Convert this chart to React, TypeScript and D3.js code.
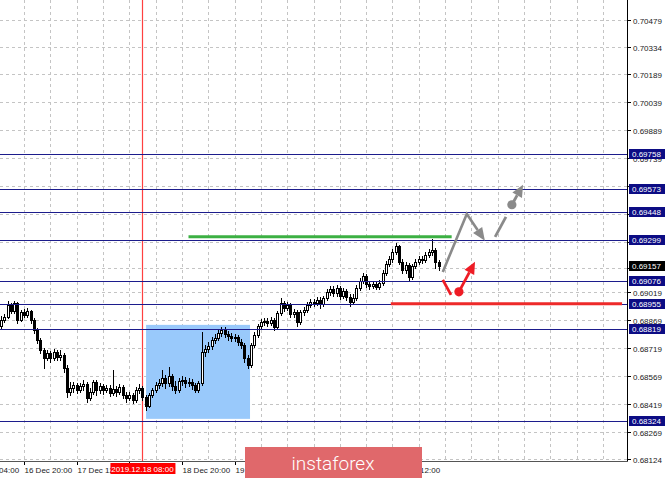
import { useEffect, useRef } from 'react'
import * as d3 from 'd3'

// H1 candles, bar 0 = 16 Dec 13:00 (open of each bar = previous close)
const firstOpen = 0.68837
const closes = [
  0.68869, 0.68885, 0.68950, 0.68917, 0.68960, 0.68869, 0.68912, 0.68896, 0.68917, 0.68869,
  0.68816, 0.68762, 0.68708, 0.68665, 0.68692, 0.68665, 0.68698, 0.68671, 0.68681, 0.68612,
  0.68483, 0.68504, 0.68521, 0.68494, 0.68515, 0.68526, 0.68451, 0.68483, 0.68537, 0.68494,
  0.68515, 0.68494, 0.68504, 0.68478, 0.68499, 0.68483, 0.68510, 0.68467, 0.68451, 0.68467,
  0.68440, 0.68494, 0.68504, 0.68456, 0.68408, 0.68467, 0.68494, 0.68521, 0.68531, 0.68558,
  0.68531, 0.68569, 0.68515, 0.68494, 0.68542, 0.68547, 0.68531, 0.68537, 0.68521, 0.68494,
  0.68531, 0.68698, 0.68714, 0.68730, 0.68762, 0.68773, 0.68799, 0.68816, 0.68794, 0.68783,
  0.68773, 0.68778, 0.68751, 0.68735, 0.68665, 0.68628, 0.68735, 0.68789, 0.68837, 0.68858,
  0.68864, 0.68853, 0.68869, 0.68832, 0.68907, 0.68960, 0.68933, 0.68950, 0.68901, 0.68912,
  0.68858, 0.68912, 0.68923, 0.68950, 0.68966, 0.68960, 0.68976, 0.68955, 0.68987, 0.69019,
  0.69035, 0.69014, 0.69041, 0.68998, 0.69025, 0.68992, 0.68966, 0.68987, 0.69041, 0.69078,
  0.69105, 0.69062, 0.69051, 0.69062, 0.69046, 0.69067, 0.69121, 0.69169, 0.69196, 0.69234,
  0.69266, 0.69180, 0.69137, 0.69164, 0.69100, 0.69159, 0.69180, 0.69196, 0.69191, 0.69218,
  0.69234, 0.69244, 0.69180, 0.69157
]
const highs = [
  0.68891, 0.68901, 0.68971, 0.68960, 0.68971, 0.68966, 0.68923, 0.68928, 0.68933, 0.68923,
  0.68880, 0.68826, 0.68773, 0.68719, 0.68708, 0.68703, 0.68714, 0.68708, 0.68708, 0.68692,
  0.68628, 0.68537, 0.68537, 0.68531, 0.68531, 0.68547, 0.68537, 0.68504, 0.68547, 0.68547,
  0.68531, 0.68526, 0.68521, 0.68521, 0.68601, 0.68515, 0.68526, 0.68521, 0.68483, 0.68483,
  0.68478, 0.68510, 0.68526, 0.68515, 0.68467, 0.68478, 0.68504, 0.68537, 0.68553, 0.68601,
  0.68574, 0.68617, 0.68580, 0.68542, 0.68558, 0.68569, 0.68563, 0.68558, 0.68553, 0.68531,
  0.68542, 0.68805, 0.68735, 0.68751, 0.68778, 0.68794, 0.68816, 0.68832, 0.68832, 0.68810,
  0.68799, 0.68794, 0.68789, 0.68767, 0.68746, 0.68681, 0.68746, 0.68805, 0.68848, 0.68874,
  0.68880, 0.68880, 0.68885, 0.68880, 0.68917, 0.68987, 0.68971, 0.68966, 0.68960, 0.68928,
  0.68923, 0.68923, 0.68939, 0.68966, 0.68982, 0.68982, 0.68992, 0.68992, 0.68998, 0.69035,
  0.69051, 0.69051, 0.69057, 0.69051, 0.69041, 0.69035, 0.69008, 0.69008, 0.69057, 0.69094,
  0.69121, 0.69116, 0.69078, 0.69078, 0.69073, 0.69084, 0.69137, 0.69185, 0.69212, 0.69250,
  0.69282, 0.69271, 0.69196, 0.69180, 0.69175, 0.69169, 0.69196, 0.69212, 0.69212, 0.69234,
  0.69250, 0.69303, 0.69255, 0.69191
]
const lows = [
  0.68821, 0.68858, 0.68880, 0.68907, 0.68907, 0.68853, 0.68864, 0.68885, 0.68885, 0.68853,
  0.68799, 0.68746, 0.68692, 0.68612, 0.68655, 0.68644, 0.68655, 0.68655, 0.68655, 0.68590,
  0.68456, 0.68467, 0.68483, 0.68478, 0.68483, 0.68494, 0.68429, 0.68440, 0.68472, 0.68467,
  0.68478, 0.68472, 0.68483, 0.68462, 0.68467, 0.68462, 0.68472, 0.68451, 0.68429, 0.68440,
  0.68424, 0.68429, 0.68478, 0.68440, 0.68387, 0.68403, 0.68456, 0.68483, 0.68504, 0.68515,
  0.68504, 0.68515, 0.68494, 0.68478, 0.68483, 0.68521, 0.68510, 0.68515, 0.68499, 0.68483,
  0.68483, 0.68521, 0.68676, 0.68698, 0.68714, 0.68746, 0.68762, 0.68783, 0.68778, 0.68762,
  0.68757, 0.68757, 0.68735, 0.68719, 0.68644, 0.68612, 0.68617, 0.68724, 0.68778, 0.68821,
  0.68842, 0.68837, 0.68842, 0.68816, 0.68821, 0.68896, 0.68917, 0.68923, 0.68885, 0.68885,
  0.68837, 0.68848, 0.68896, 0.68912, 0.68939, 0.68944, 0.68950, 0.68933, 0.68944, 0.68976,
  0.69003, 0.68998, 0.68998, 0.68982, 0.68987, 0.68976, 0.68944, 0.68955, 0.68976, 0.69030,
  0.69067, 0.69046, 0.69035, 0.69041, 0.69035, 0.69035, 0.69057, 0.69110, 0.69159, 0.69180,
  0.69223, 0.69169, 0.69121, 0.69121, 0.69078, 0.69089, 0.69148, 0.69169, 0.69175, 0.69180,
  0.69207, 0.69218, 0.69148, 0.69137
]

// labels that stay visible (the others sit under the date box / logo)
const timeLabels = ['16 Dec 04:00', '16 Dec 20:00', '17 Dec 12:00', '18 Dec 20:00', '19 Dec 12:00', '23 Dec 12:00']
const timeLabelBars = [-9, 7, 23, 55, 71, 119]
const timeTickBars = [-9, 7, 23, 39, 55, 71, 87, 103, 119]

// grid rows; the labels hidden behind level boxes are left out of priceLabels
const priceTicks = [0.70479, 0.70334, 0.70189, 0.70039, 0.69889, 0.69739, 0.69589, 0.69439, 0.69289, 0.69149, 0.69019, 0.68869, 0.68719, 0.68569, 0.68419, 0.68269, 0.68124]
const priceLabels = [0.70479, 0.70334, 0.70189, 0.70039, 0.69889, 0.69739, 0.69589, 0.69019, 0.68869, 0.68719, 0.68569, 0.68419, 0.68269, 0.68124]
const levels = [0.69758, 0.69573, 0.69448, 0.69299, 0.69076, 0.68955, 0.68819, 0.68324]
const bidPrice = 0.69157

const markerBar = 43
const markerLabel = '2019.12.18 08:00'
const zoneBars = [44.1, 75.7]
const zonePrices = [0.68338, 0.68842]
const greenBars = [57, 137]
const greenPrice = 0.69314
const redBars = [118.5, 188.8]
const redPrice = 0.68955

// forecast arrows: [bar, price]
const grayZig = [[134.3, 0.69126], [141.6, 0.69437], [147.1, 0.69293]]
const grayDash = [[150.2, 0.69314], [153.5, 0.69421], [155.3, 0.69486], [158.7, 0.69593]]
const redDash = [[134.3, 0.69083], [136.8, 0.69003], [139.2, 0.69019], [144.1, 0.69180]]

const fmt = d3.format('.5f')
const FONT = 'Liberation Sans, Arial, sans-serif'

export default function App() {
  const svgRef = useRef<SVGSVGElement>(null)

  useEffect(() => {
    if (!svgRef.current) return
    const svg = d3.select(svgRef.current)
    svg.selectAll('*').remove()

    const width = 665
    const height = 478
    const right = 627
    const bottom = 461

    const x = d3.scaleLinear().domain([0, 190.3]).range([1, right])
    const y = d3.scaleLinear().domain([0.68112, 0.70584]).range([bottom, 0])
    const px = (v: number) => Math.round(v) + 0.5

    svg.append('rect').attr('width', width).attr('height', height).attr('fill', '#fff')

    svg.append('defs').append('clipPath').attr('id', 'plot')
      .append('rect').attr('width', right).attr('height', bottom)
    const plot = svg.append('g').attr('clip-path', 'url(#plot)')

    // grid
    plot.append('g').selectAll('line').data(d3.range(-1, 191, 8)).join('line')
      .attr('x1', d => px(x(d))).attr('x2', d => px(x(d)))
      .attr('y1', 0).attr('y2', bottom)
      .attr('stroke', '#c4c4c4').attr('stroke-dasharray', '3,3')
    plot.append('g').selectAll('line').data(priceTicks).join('line')
      .attr('x1', 0).attr('x2', right)
      .attr('y1', d => px(y(d))).attr('y2', d => px(y(d)))
      .attr('stroke', '#c4c4c4').attr('stroke-dasharray', '3,3')

    // zone rectangle
    plot.append('rect')
      .attr('x', x(zoneBars[0])).attr('width', x(zoneBars[1]) - x(zoneBars[0]))
      .attr('y', y(zonePrices[1])).attr('height', y(zonePrices[0]) - y(zonePrices[1]))
      .attr('fill', '#99c9fb')

    // marker vertical line
    plot.append('line')
      .attr('x1', px(x(markerBar))).attr('x2', px(x(markerBar)))
      .attr('y1', 0).attr('y2', bottom)
      .attr('stroke', '#ff4040').attr('stroke-width', 1.2)

    // candles
    const candles = closes.map((c, i) => ({
      i,
      o: i === 0 ? firstOpen : closes[i - 1],
      c,
      h: highs[i],
      l: lows[i]
    }))
    const cg = plot.append('g')
    candles.forEach(d => {
      const cx = Math.round(x(d.i))
      cg.append('line')
        .attr('x1', cx + 0.5).attr('x2', cx + 0.5)
        .attr('y1', Math.round(y(d.h))).attr('y2', Math.round(y(d.l)) + 1)
        .attr('stroke', '#000').attr('stroke-width', 1)
      const top = Math.round(y(Math.max(d.o, d.c)))
      const bot = Math.round(y(Math.min(d.o, d.c)))
      const bull = d.c >= d.o
      cg.append('rect')
        .attr('x', cx - 0.5).attr('width', 2)
        .attr('y', top + 0.5).attr('height', Math.max(1, bot - top))
        .attr('fill', bull ? '#fff' : '#000')
        .attr('stroke', '#000').attr('stroke-width', 1)
    })

    // level lines
    plot.append('g').selectAll('line').data(levels).join('line')
      .attr('x1', 0).attr('x2', right)
      .attr('y1', d => px(y(d))).attr('y2', d => px(y(d)))
      .attr('stroke', '#1c1c8c').attr('stroke-width', 1)

    // green and red horizontal segments
    plot.append('line')
      .attr('x1', x(greenBars[0])).attr('x2', x(greenBars[1]))
      .attr('y1', y(greenPrice)).attr('y2', y(greenPrice))
      .attr('stroke', '#3cb043').attr('stroke-width', 3)
    plot.append('line')
      .attr('x1', x(redBars[0])).attr('x2', x(redBars[1]))
      .attr('y1', y(redPrice)).attr('y2', y(redPrice))
      .attr('stroke', '#ee2a2a').attr('stroke-width', 3)

    // arrows
    const arrowHead = (g: any, p0: number[], p1: number[], color: string, len: number, half: number) => {
      const x0 = x(p0[0]), y0 = y(p0[1]), x1 = x(p1[0]), y1 = y(p1[1])
      const a = Math.atan2(y1 - y0, x1 - x0)
      const bx = x1 - len * Math.cos(a), by = y1 - len * Math.sin(a)
      const nx = -Math.sin(a) * half, ny = Math.cos(a) * half
      g.append('path')
        .attr('d', `M${x1},${y1}L${bx + nx},${by + ny}L${bx - nx},${by - ny}Z`)
        .attr('fill', color)
      return [bx, by]
    }
    const line = d3.line<number[]>().x(d => x(d[0])).y(d => y(d[1]))

    const ag = plot.append('g')
    const grayC = '#8a8a8a'
    const zigEnd = arrowHead(ag, grayZig[1], grayZig[2], grayC, 13, 5.5)
    ag.append('path')
      .attr('d', `${line(grayZig.slice(0, 2))}L${zigEnd[0]},${zigEnd[1]}`)
      .attr('fill', 'none').attr('stroke', grayC).attr('stroke-width', 2.6)

    const dashed = (pts: number[][], color: string) => {
      ag.append('path').attr('d', line(pts.slice(0, 2)))
        .attr('fill', 'none').attr('stroke', color).attr('stroke-width', 2.8)
      const end = arrowHead(ag, pts[2], pts[3], color, 12, 5.5)
      ag.append('path').attr('d', `M${x(pts[2][0])},${y(pts[2][1])}L${end[0]},${end[1]}`)
        .attr('fill', 'none').attr('stroke', color).attr('stroke-width', 2.8)
      ag.append('circle').attr('cx', x(pts[2][0])).attr('cy', y(pts[2][1]))
        .attr('r', 4.6).attr('fill', color)
    }
    dashed(grayDash, grayC)
    dashed(redDash, '#ee1c25')

    // axes
    svg.append('line').attr('x1', px(right)).attr('x2', px(right)).attr('y1', 0).attr('y2', bottom + 1)
      .attr('stroke', '#000')
    svg.append('line').attr('x1', 0).attr('x2', right + 1).attr('y1', px(bottom)).attr('y2', px(bottom))
      .attr('stroke', '#555')

    // price ticks
    const yt = svg.append('g')
    priceTicks.forEach(v => {
      const yy = px(y(v))
      yt.append('line').attr('x1', right + 1).attr('x2', right + 4).attr('y1', yy).attr('y2', yy).attr('stroke', '#000')
    })
    priceLabels.forEach(v => {
      yt.append('text').attr('x', right + 6).attr('y', px(y(v)) + 3)
        .attr('font-family', FONT).attr('font-size', 8).attr('fill', '#1a1a1a')
        .text(fmt(v))
    })

    // level labels
    const boxes = levels.map(v => ({ v, fill: '#0c0c84' })).concat([{ v: bidPrice, fill: '#000' }])
    boxes.forEach(b => {
      const yy = y(b.v)
      svg.append('rect').attr('x', right + 2).attr('y', Math.round(yy) - 5).attr('width', 38).attr('height', 10)
        .attr('fill', b.fill)
      svg.append('text').attr('x', right + 5).attr('y', Math.round(yy) + 3)
        .attr('font-family', FONT).attr('font-size', 8).attr('fill', '#fff')
        .text(fmt(b.v))
    })

    // time ticks and labels
    const xt = svg.append('g')
    timeTickBars.forEach(b => {
      const xx = px(x(b))
      xt.append('line').attr('x1', xx).attr('x2', xx).attr('y1', bottom + 1).attr('y2', bottom + 4).attr('stroke', '#000')
    })
    timeLabelBars.forEach((b, i) => {
      xt.append('text').attr('x', px(x(b))).attr('y', bottom + 12)
        .attr('font-family', FONT).attr('font-size', 8).attr('fill', '#1a1a1a')
        .text(timeLabels[i])
    })

    // marker date box
    const mx = x(markerBar)
    svg.append('rect').attr('x', mx - 32).attr('y', bottom + 2).attr('width', 65).attr('height', 11).attr('fill', '#ff0000')
    svg.append('text').attr('x', mx).attr('y', bottom + 11).attr('text-anchor', 'middle')
      .attr('font-family', FONT).attr('font-size', 8).attr('fill', '#fff')
      .text(markerLabel)

    // logo
    svg.append('rect').attr('x', 245).attr('y', 447).attr('width', 177).attr('height', 31).attr('fill', '#e0686b')
    svg.append('text').attr('x', 333).attr('y', 470).attr('text-anchor', 'middle')
      .attr('font-family', 'Roboto, sans-serif').attr('font-weight', 300).attr('font-size', 19).attr('fill', '#fff')
      .text('instaforex')
  }, [])

  return (
    <svg
      ref={svgRef}
      width={665}
      height={478}
      style={{ position: 'absolute', left: 0, top: 0, display: 'block' }}
    />
  )
}
